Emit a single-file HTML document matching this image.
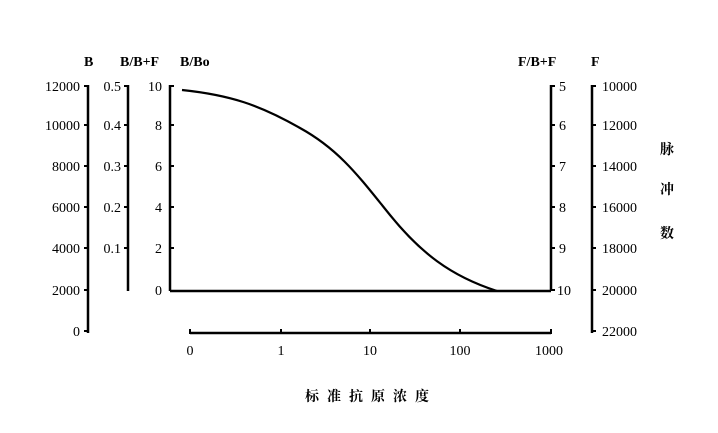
<!DOCTYPE html>
<html><head><meta charset="utf-8"><style>
body{margin:0;background:#fff}
svg{display:block}
text{font-family:"Liberation Serif","Noto Serif CJK SC",serif;font-size:14px;fill:#000}
.b{font-weight:bold}
</style></head><body>
<svg width="718" height="433" viewBox="0 0 718 433">
<g stroke="#000" stroke-width="2.5" fill="none">
<line x1="88" y1="85" x2="88" y2="333"/>
<line x1="128" y1="85" x2="128" y2="291"/>
<line x1="170" y1="85" x2="170" y2="291"/>
<line x1="170" y1="291" x2="551" y2="291"/>
<line x1="551" y1="85" x2="551" y2="291"/>
<line x1="592" y1="85" x2="592" y2="333"/>
<line x1="190" y1="333" x2="551" y2="333"/>
<path d="M182,90 C230,95 260,105 300,128 C340,150 360,178 390,215 C420,252 450,276 497,291" stroke-width="2.2"/>
</g>
<g stroke="#000" stroke-width="2">
<path d="M84,86h4M84,125h4M84,166h4M84,207h4M84,248h4M84,290h4M84,331h4"/>
<path d="M124,86h4M124,125h4M124,166h4M124,207h4M124,248h4"/>
<path d="M170,86h4M170,125h4M170,166h4M170,207h4M170,248h4"/>
<path d="M551,86h4M551,125h4M551,166h4M551,207h4M551,248h4M551,290h4"/>
<path d="M592,86h4M592,125h4M592,166h4M592,207h4M592,248h4M592,290h4M592,331h4"/>
<path d="M190,329v5M281,329v5M370,329v5M460,329v5M551,329v5"/>
</g>
<g class="b">
<text x="84" y="66">B</text>
<text x="120" y="66">B/B+F</text>
<text x="180" y="66">B/Bo</text>
<text x="518" y="66">F/B+F</text>
<text x="591" y="66">F</text>
</g>
<g text-anchor="end">
<text x="80" y="91">12000</text><text x="80" y="130">10000</text><text x="80" y="171">8000</text><text x="80" y="212">6000</text><text x="80" y="253">4000</text><text x="80" y="295">2000</text><text x="80" y="336">0</text>
<text x="121" y="91">0.5</text><text x="121" y="130">0.4</text><text x="121" y="171">0.3</text><text x="121" y="212">0.2</text><text x="121" y="253">0.1</text>
<text x="162" y="91">10</text><text x="162" y="130">8</text><text x="162" y="171">6</text><text x="162" y="212">4</text><text x="162" y="253">2</text><text x="162" y="295">0</text>
</g>
<g>
<text x="559" y="91">5</text><text x="559" y="130">6</text><text x="559" y="171">7</text><text x="559" y="212">8</text><text x="559" y="253">9</text><text x="557" y="295">10</text>
<text x="602" y="91">10000</text><text x="602" y="130">12000</text><text x="602" y="171">14000</text><text x="602" y="212">16000</text><text x="602" y="253">18000</text><text x="602" y="295">20000</text><text x="602" y="336">22000</text>
</g>
<g text-anchor="middle">
<text x="190" y="355">0</text><text x="281" y="355">1</text><text x="370" y="355">10</text><text x="460" y="355">100</text><text x="549" y="355">1000</text>
</g>
<g class="b" style="font-size:14px">
<text x="660" y="154">脉</text><text x="660" y="194">冲</text><text x="660" y="238">数</text>
<text x="371" y="401" text-anchor="middle" style="letter-spacing:8px">标准抗原浓度</text>
</g>
</svg>
</body></html>
